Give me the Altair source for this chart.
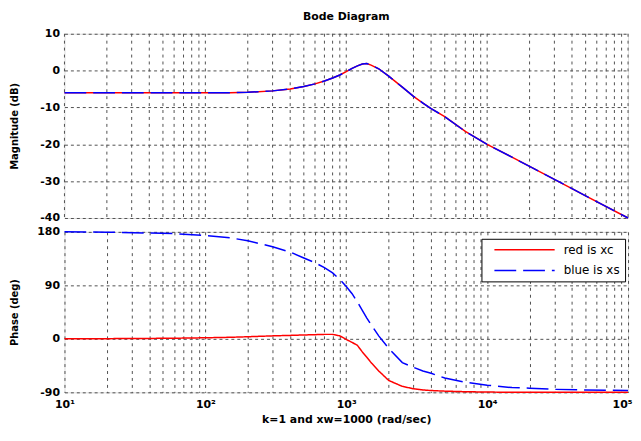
import altair as alt
import pandas as pd

# frequency grid (rad/sec) and values
freq = [10, 20, 40, 60, 100, 150, 200, 300, 400, 500, 600, 700, 800, 900,
        1000, 1100, 1200, 1300, 1400, 1500, 1700, 2000, 2500, 3000, 3500,
        4000, 5000, 7000, 10000, 15000, 20000, 30000, 50000, 100000]
mag_db = [-6, -6, -6, -6, -6, -6, -5.9, -5.5, -5, -4.3, -3.6, -2.8, -2, -1.2,
          -0.3, 0.6, 1.3, 1.8, 1.9, 1.5, 0.5, -1.5, -4.5, -7, -8.8,
          -10.3, -12.5, -16.5, -20, -23.5, -26, -29.5, -34, -40]
phase_xc = [0, 0.3, 0.7, 1, 1.8, 2.6, 3.5, 5, 5.8, 6.5, 7, 7.5, 7.5, 5,
            -1, -6, -11, -22, -31, -40, -54, -70, -80, -84, -86,
            -87, -88, -89, -89.5, -90, -90, -90, -90, -90]
phase_xs = [180, 179.5, 178, 177, 174, 170, 165, 155, 146, 136, 128, 120, 111, 100,
            88, 76, 62, 48, 35, 24, 5, -16, -40, -48, -54,
            -58, -66, -73, -78, -82, -83, -85, -86, -87]

series_names = ["red is xc", "blue is xs"]
series_colors = ["#ff0000", "#0000ff"]

x_ticks = [10, 20, 30, 40, 50, 60, 70, 80, 90,
           100, 200, 300, 400, 500, 600, 700, 800, 900,
           1000, 2000, 3000, 4000, 5000, 6000, 7000, 8000, 9000,
           10000, 20000, 30000, 40000, 50000, 60000, 70000, 80000, 90000, 100000]
mag_ticks = [-40, -30, -20, -10, 0, 10]
phase_ticks = [-90, 0, 90, 180]

FONT = "DejaVu Sans"
GRID = "#505050"

mag_df = pd.DataFrame({"freq": freq, "mag": mag_db})
phase_df = pd.DataFrame({
    "freq": freq * 2,
    "phase": phase_xc + phase_xs,
    "series": [series_names[0]] * len(freq) + [series_names[1]] * len(freq),
})
grid_df = pd.DataFrame({"freq": x_ticks})

xscale = alt.Scale(type="log", domain=[10, 100000], nice=False)

label_expr = ("datum.value == 10 ? '10¹' : datum.value == 100 ? '10²' : "
              "datum.value == 1000 ? '10³' : datum.value == 10000 ? '10⁴' : "
              "datum.value == 100000 ? '10⁵' : ''")

x_top = alt.X("freq:Q", scale=xscale, axis=None)

x_bot = alt.X("freq:Q", scale=xscale, axis=alt.Axis(
    values=x_ticks, labelExpr=label_expr, ticks=False, tickSize=0, domain=False,
    title="k=1 and xw=1000  (rad/sec)", titleFont=FONT, titleFontSize=11,
    titleFontWeight="bold", titlePadding=4, labelFont=FONT, labelFontSize=11,
    labelFontWeight="bold", labelPadding=6, labelColor="#000",
    labelAlign=alt.ConditionalAxisLabelAlign(
        condition={"test": "datum.value == 100000", "value": "right"}, value="center"),
    labelOffset=alt.ConditionalAxisNumber(
        condition={"test": "datum.value == 100000", "value": 4}, value=0),
    grid=True, gridDash=[3, 4], gridColor=GRID, gridOpacity=1,
    labelOverlap=False, labelFlush=False))

y_mag = alt.Y("mag:Q", scale=alt.Scale(domain=[-40, 10], nice=False), axis=alt.Axis(
    values=mag_ticks, labelExpr="'' + datum.value", ticks=False, domain=False,
    title="Magnitude (dB)", titleFont=FONT, titleFontSize=10, titleFontWeight="bold",
    titlePadding=5, minExtent=40, maxExtent=40, labelFont=FONT, labelFontSize=11,
    labelFontWeight="bold", labelPadding=5, labelColor="#000",
    grid=True, gridDash=[3, 3], gridColor=GRID, gridOpacity=1))

y_phase = alt.Y("phase:Q", scale=alt.Scale(domain=[-90, 180], nice=False), axis=alt.Axis(
    values=phase_ticks, labelExpr="'' + datum.value", ticks=False, domain=False,
    title="Phase (deg)", titleFont=FONT, titleFontSize=10, titleFontWeight="bold",
    titlePadding=5, minExtent=40, maxExtent=40, labelFont=FONT, labelFontSize=11,
    labelFontWeight="bold", labelPadding=5, labelColor="#000",
    grid=True, gridDash=[3, 3], gridColor=GRID, gridOpacity=1))

W = 569
TOP_H = 186
SPACING = 14

# vertical grid of the magnitude panel (log decades and their sub-ticks)
top_grid = alt.Chart(grid_df).mark_rule(color=GRID, strokeWidth=1, strokeDash=[3, 4]).encode(
    x=x_top)
mag_red = alt.Chart(mag_df).mark_line(color=series_colors[0], strokeWidth=1.5).encode(
    x=x_top, y=y_mag)
mag_blue = alt.Chart(mag_df).mark_line(color=series_colors[1], strokeWidth=1.5,
                                       strokeDash=[22, 7]).encode(x=x_top, y=y_mag)

top = alt.layer(top_grid, mag_red, mag_blue).properties(
    width=W, height=TOP_H,
    title=alt.TitleParams("Bode Diagram", font=FONT, fontSize=11, fontWeight="bold",
                          anchor="middle", frame="group", offset=6, color="#000"))

phase = alt.Chart(phase_df).mark_line(strokeWidth=1.5).encode(
    x=x_bot, y=y_phase,
    color=alt.Color("series:N", sort=series_names,
                    scale=alt.Scale(domain=series_names, range=series_colors),
                    legend=alt.Legend(
                        title=None, orient="none", legendX=W - 148, legendY=TOP_H + SPACING + 7,
                        fillColor="white", strokeColor="black",
                        padding=5, clipHeight=12, rowPadding=9, symbolOffset=7,
                        labelFont=FONT, labelFontSize=12, labelColor="#000",
                        symbolType="stroke", symbolSize=3700, symbolStrokeWidth=1.5,
                        labelOffset=8)),
    strokeDash=alt.StrokeDash("series:N", sort=series_names,
                              scale=alt.Scale(domain=series_names, range=[[1, 0], [22, 7]]),
                              legend=None),
    order=alt.Order("freq:Q"),
)

bottom = phase.properties(width=W, height=162)

chart = alt.vconcat(top, bottom, spacing=SPACING, bounds="flush").configure_view(
    stroke="#808080", strokeWidth=2
).configure(padding={"left": 1, "top": 0, "right": 0, "bottom": 0})

chart.save("out.html", embed_options={"renderer": "svg", "actions": False})
